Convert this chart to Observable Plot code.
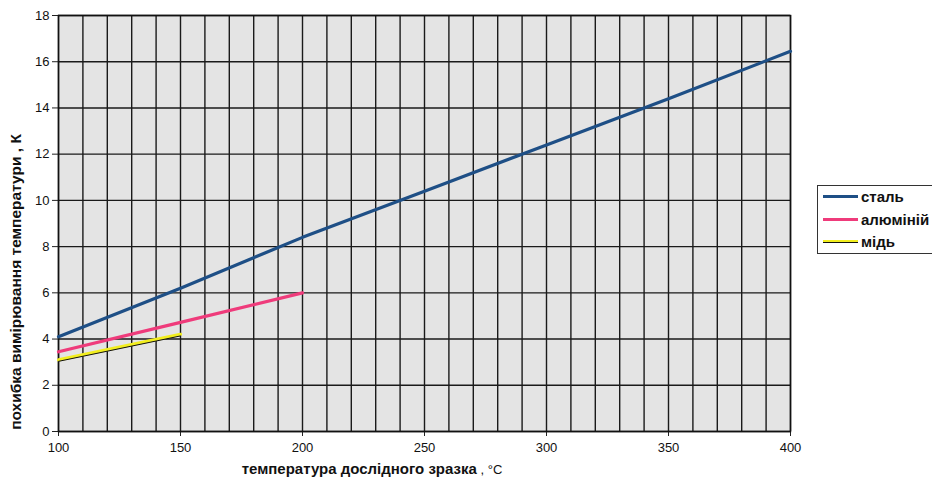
<!DOCTYPE html>
<html>
<head>
<meta charset="utf-8">
<script src="https://cdn.jsdelivr.net/npm/d3@7"></script>
<script src="https://cdn.jsdelivr.net/npm/@observablehq/plot@0.6"></script>
<style>
  html, body { margin: 0; padding: 0; background: #fff; }
  #wrap { position: relative; width: 932px; height: 480px; overflow: hidden; font-family: "Liberation Sans", Arial, sans-serif; }
  #legend { position: absolute; left: 817px; top: 185px; width: 140px; height: 69px; border: 1px solid #333; background: #fff; box-sizing: border-box; }
  #legend .item { position: absolute; left: 5px; height: 16px; display: flex; align-items: center; font-weight: bold; font-size: 15px; color: #111; }
  #legend .swatch { width: 35px; height: 0; margin-right: 3px; position: relative; }
</style>
</head>
<body>
<div id="wrap"></div>
<script>
// Measurement error vs. sample temperature for three metals
const steelTemp = [100, 150, 200, 250, 300, 350, 400];
const steelErr  = [4.1, 6.2, 8.4, 10.4, 12.4, 14.4, 16.45];
const aluTemp = [100, 150, 200];
const aluErr  = [3.45, 4.72, 6.0];
const copperTemp = [100, 150];
const copperErr  = [3.1, 4.2];

const seriesNames = ["сталь", "алюміній", "мідь"];
const xTicks = [100, 150, 200, 250, 300, 350, 400];
const yTicks = [0, 2, 4, 6, 8, 10, 12, 14, 16, 18];
const xGrid = d3.range(100, 401, 10);

const steel = steelTemp.map((t, i) => ({t, e: steelErr[i]}));
const alu = aluTemp.map((t, i) => ({t, e: aluErr[i]}));
const copper = copperTemp.map((t, i) => ({t, e: copperErr[i]}));

const colors = {steel: "#1e4f86", alu: "#ef3b7b", copper: "#f2ee1e"};

const chart = Plot.plot({
  width: 932,
  height: 480,
  marginLeft: 58,
  marginRight: 142,
  marginTop: 15,
  marginBottom: 49,
  x: {domain: [100, 400]},
  y: {domain: [0, 18]},
  style: {fontFamily: "'Liberation Sans', Arial, sans-serif", fontSize: "13px", background: "white", color: "#111"},
  marks: [
    Plot.frame({fill: "#e4e4e4"}),
    Plot.gridX(xGrid, {stroke: "#1a1a1a", strokeOpacity: 1, strokeWidth: 1.4}),
    Plot.gridY(yTicks, {stroke: "#1a1a1a", strokeOpacity: 1, strokeWidth: 1.4}),
    Plot.axisX(xTicks, {tickSize: 5, tickPadding: 6, label: null, stroke: "#222"}),
    Plot.axisY(yTicks, {tickSize: 6, tickPadding: 3, label: null, stroke: "#222"}),
    Plot.frame({stroke: "#111", strokeWidth: 1.5}),
    Plot.line(steel, {x: "t", y: "e", stroke: colors.steel, strokeWidth: 3.2}),
    Plot.line(alu, {x: "t", y: "e", stroke: colors.alu, strokeWidth: 3.2}),
    Plot.line(copper, {x: "t", y: "e", stroke: colors.copper, strokeWidth: 3.2}),
    Plot.line(copper, {x: "t", y: "e", stroke: "#111", strokeWidth: 1, dy: 1.5})
  ]
});

const wrap = document.getElementById("wrap");
wrap.appendChild(chart);

// Axis titles
const svg = d3.select(chart);
const xt = svg.append("text")
  .attr("x", 372).attr("y", 474)
  .attr("text-anchor", "middle")
  .attr("fill", "#111")
  .style("font-size", "15px");
xt.append("tspan").attr("font-weight", "bold").text("температура дослідного зразка");
xt.append("tspan").attr("font-size", "13px").text(" , °C");

const yt = svg.append("text")
  .attr("transform", "translate(21,282) rotate(-90)")
  .attr("text-anchor", "middle")
  .attr("fill", "#111")
  .attr("font-weight", "bold")
  .style("font-size", "15.5px");
yt.append("tspan").text("похибка вимірювання температури");
yt.append("tspan").text(" , К");

// Legend
const legend = document.createElement("div");
legend.id = "legend";
const legendColors = [colors.steel, colors.alu, colors.copper];
const legendTops = [2, 25, 47];
seriesNames.forEach((name, i) => {
  const item = document.createElement("div");
  item.className = "item";
  item.style.top = legendTops[i] + "px";
  const sw = document.createElement("div");
  sw.className = "swatch";
  sw.style.borderTop = "3px solid " + legendColors[i];
  if (i === 2) {
    // thin dark edge under the yellow sample, as on the plotted line
    const under = document.createElement("div");
    under.style.cssText = "position:absolute;left:0;top:-1px;width:35px;border-top:1px solid #111;";
    sw.appendChild(under);
  }
  item.appendChild(sw);
  const label = document.createElement("span");
  label.textContent = name;
  item.appendChild(label);
  legend.appendChild(item);
});
wrap.appendChild(legend);
</script>
</body>
</html>
